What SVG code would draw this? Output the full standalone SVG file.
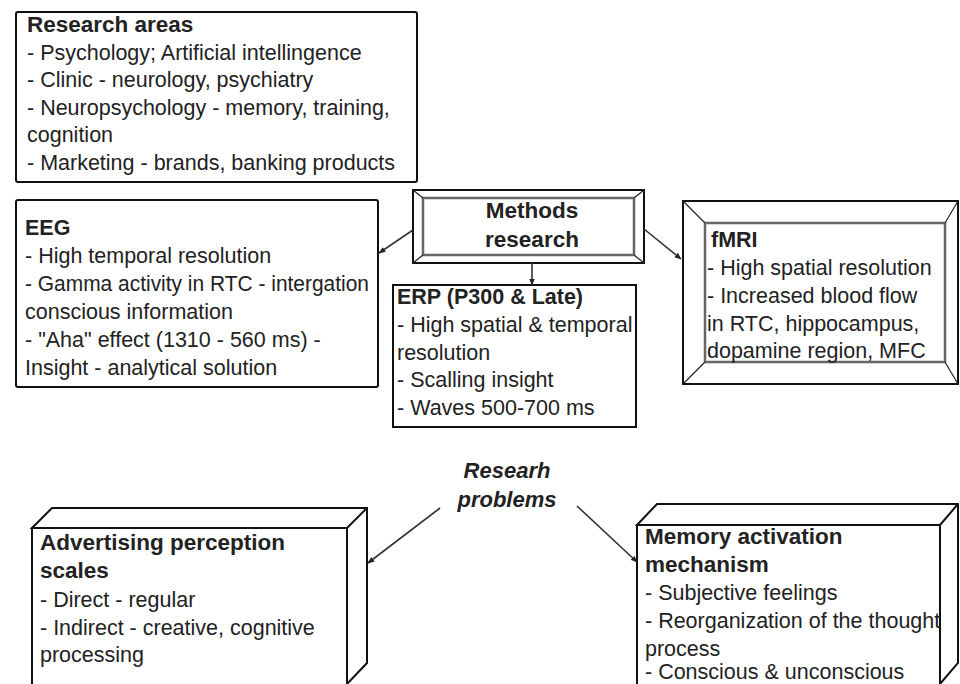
<svg xmlns="http://www.w3.org/2000/svg" width="960" height="684" viewBox="0 0 960 684">
<defs>
<marker id="ah" viewBox="0 0 10 10" refX="9" refY="5" markerWidth="7" markerHeight="7" orient="auto" markerUnits="userSpaceOnUse">
<path d="M0,1 L10,5 L0,9 z" fill="#222"/>
</marker>
<style>
.box{fill:#fff;stroke:#111;stroke-width:2}
.inner{fill:#fff;stroke:#666;stroke-width:2.5}
.bev{stroke:#222;stroke-width:1.2;fill:none}
.t{font-family:"Liberation Sans",Arial,sans-serif;font-size:21.5px;fill:#222}
.b{font-weight:bold;font-size:22.5px}
.b2{font-weight:bold;font-size:21.5px}
.c{text-anchor:middle}
.i{font-style:italic;font-weight:bold;font-size:22px}
.conn{stroke:#333;stroke-width:1.6;fill:none}
</style>
</defs>
<rect width="960" height="684" fill="#fff"/>

<g id="research-areas">
<rect class="box" x="16" y="12" width="401" height="170" rx="2"/>
<text class="t b" x="27" y="32">Research areas</text>
<text class="t" x="27" y="60">- Psychology; Artificial intellingence</text>
<text class="t" x="27" y="87">- Clinic - neurology, psychiatry</text>
<text class="t" x="27" y="115">- Neuropsychology - memory, training,</text>
<text class="t" x="27" y="142">cognition</text>
<text class="t" x="27" y="170">- Marketing - brands, banking products</text>
</g>

<g id="methods-research">
<rect class="box" x="413" y="190" width="231" height="73"/>
<rect class="inner" x="423" y="198" width="211" height="57"/>
<path class="bev" d="M413,190 L423,198 M644,190 L634,198 M413,263 L423,255 M644,263 L634,255"/>
<text class="t b c" x="532" y="218">Methods</text>
<text class="t b c" x="532" y="247">research</text>
</g>

<g id="eeg">
<rect class="box" x="16" y="200" width="362" height="187" rx="2"/>
<text class="t b2" x="25" y="235">EEG</text>
<text class="t" x="25" y="263">- High temporal resolution</text>
<text class="t" x="25" y="291" textLength="344" lengthAdjust="spacingAndGlyphs">- Gamma activity in RTC - intergation</text>
<text class="t" x="25" y="319">conscious information</text>
<text class="t" x="25" y="347">- "Aha" effect (1310 - 560 ms) -</text>
<text class="t" x="25" y="375">Insight - analytical solution</text>
</g>

<g id="erp">
<rect class="box" x="393" y="285" width="243" height="142"/>
<text class="t b2" x="397" y="304">ERP (P300 &amp; Late)</text>
<text class="t" x="397" y="332">- High spatial &amp; temporal</text>
<text class="t" x="397" y="360">resolution</text>
<text class="t" x="397" y="387">- Scalling insight</text>
<text class="t" x="397" y="415">- Waves 500-700 ms</text>
</g>

<g id="fmri">
<rect class="box" x="683" y="201" width="275" height="183"/>
<rect class="inner" x="705" y="223" width="240" height="139"/>
<path class="bev" d="M683,201 L705,223 M958,201 L945,223 M683,384 L705,362 M958,384 L945,362"/>
<text class="t b2" x="711" y="247">fMRI</text>
<text class="t" x="707" y="275">- High spatial resolution</text>
<text class="t" x="707" y="303">- Increased blood flow</text>
<text class="t" x="707" y="331">in RTC, hippocampus,</text>
<text class="t" x="707" y="358">dopamine region, MFC</text>
</g>

<g id="research-problems">
<text class="t i c" x="507" y="478">Researh</text>
<text class="t i c" x="507" y="507">problems</text>
</g>

<g id="advertising">
<path class="box" d="M32,528 L52,508 L367,508 L367,663 L347,684 L347,528 Z"/>
<path class="bev" d="M347,528 L367,508" style="stroke-width:2;stroke:#111"/>
<rect class="box" x="32" y="528" width="315" height="170"/>
<text class="t b" x="40" y="550">Advertising perception</text>
<text class="t b" x="40" y="578">scales</text>
<text class="t" x="40" y="607">- Direct - regular</text>
<text class="t" x="40" y="635">- Indirect - creative, cognitive</text>
<text class="t" x="40" y="662">processing</text>
</g>

<g id="memory">
<path class="box" d="M637,525 L657,504 L958,504 L958,663 L940,684 L940,525 Z"/>
<path class="bev" d="M940,525 L958,504" style="stroke-width:2;stroke:#111"/>
<rect class="box" x="637" y="525" width="303" height="175"/>
<text class="t b" x="645" y="544">Memory activation</text>
<text class="t b" x="645" y="572">mechanism</text>
<text class="t" x="645" y="600">- Subjective feelings</text>
<text class="t" x="645" y="628">- Reorganization of the thought</text>
<text class="t" x="645" y="656">process</text>
<text class="t" x="645" y="679">- Conscious &amp; unconscious</text>
</g>

<g id="connectors">
<line class="conn" x1="413" y1="230" x2="379" y2="253" marker-end="url(#ah)"/>
<line class="conn" x1="532" y1="263" x2="532" y2="285" marker-end="url(#ah)"/>
<line class="conn" x1="644" y1="229" x2="681" y2="259" marker-end="url(#ah)"/>
<line class="conn" x1="440" y1="508" x2="368" y2="563" marker-end="url(#ah)"/>
<line class="conn" x1="577" y1="506" x2="637" y2="562" marker-end="url(#ah)"/>
</g>
</svg>
